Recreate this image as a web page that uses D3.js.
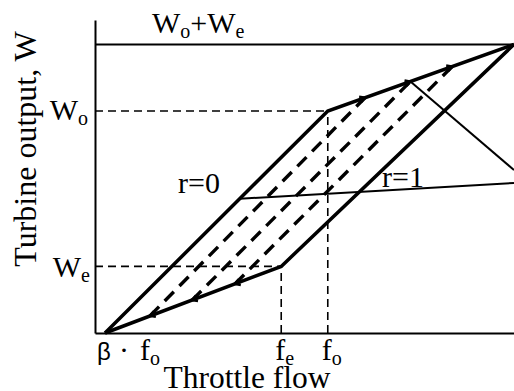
<!DOCTYPE html>
<html>
<head>
<meta charset="utf-8">
<script src="https://cdn.jsdelivr.net/npm/d3@7"></script>
<style>
  html, body { margin: 0; padding: 0; background: #fff; }
  svg { display: block; }
  text { font-family: "Liberation Serif", "Times New Roman", serif; fill: #000; }
</style>
</head>
<body>
<svg id="chart" width="514" height="391"></svg>
<script>
// Operating-region diagram of an extraction turbine: output W vs throttle flow.
const flowRef = { beta: 0.043, fe: 0.8, fo: 1.0 };        // flows (relative to f_o)
const powerRef = { We: 0.3, Wo: 1.0 };                    // outputs (relative to W_o)

// Region boundary, lower path and upper path (flow, output)
const lowerBoundary = [[0.043, 0], [0.8, 0.3], [1.8, 1.3]];
const upperBoundary = [[0.043, 0], [1.0, 1.0], [1.8, 1.3]];

// Constant-extraction lines inside the region
const extractionLines = [
  [[0.236, 0.077], [1.160, 1.060]],
  [[0.417, 0.148], [1.355, 1.133]],
  [[0.601, 0.221], [1.534, 1.200]]
];

// Ratio line r=0 .. r=1 and the limit line from the upper boundary
const ratioLine = [[0.622, 0.605], [1.8, 0.676]];
const limitLine = [[1.355, 1.133], [1.8, 0.734]];

// Axis extents
const flowDomain = [0, 1.8];
const powerDomain = [0, 1.41];

const svg = d3.select("#chart");
const x = d3.scaleLinear().domain(flowDomain).range([95, 514]);
const y = d3.scaleLinear().domain(powerDomain).range([333, 20]);
const line = d3.line().x(d => x(d[0])).y(d => y(d[1]));

// Axes (plain lines, labels drawn separately)
const xAxis = svg.append("g").attr("transform", `translate(0,${y(0)})`)
  .call(d3.axisBottom(x).tickValues([]).tickSizeOuter(0));
const yAxis = svg.append("g").attr("transform", `translate(${x(0)},0)`)
  .call(d3.axisLeft(y).tickValues([]).tickSizeOuter(0));
[xAxis, yAxis].forEach(g => g.select(".domain").attr("stroke", "#000").attr("stroke-width", 2));

// Maximum total output
const Wmax = powerRef.Wo + powerRef.We;
svg.append("path").attr("d", line([[0, Wmax], [flowDomain[1], Wmax]]))
  .attr("fill", "none").attr("stroke", "#000").attr("stroke-width", 2);

// Reference guides for W_o, W_e, f_e, f_o
const guides = [
  [[0, powerRef.Wo], [flowRef.fo, powerRef.Wo]],
  [[0, powerRef.We], [flowRef.fe, powerRef.We]],
  [[flowRef.fe, 0], [flowRef.fe, powerRef.We]],
  [[flowRef.fo, 0], [flowRef.fo, powerRef.Wo]]
];
svg.selectAll("path.guide").data(guides).join("path").attr("class", "guide")
  .attr("d", line).attr("fill", "none").attr("stroke", "#000")
  .attr("stroke-width", 1.6).attr("stroke-dasharray", "8,5");

// Extraction lines (dashed, heavy)
svg.selectAll("path.extr").data(extractionLines).join("path").attr("class", "extr")
  .attr("d", line).attr("fill", "none").attr("stroke", "#000")
  .attr("stroke-width", 3.4).attr("stroke-dasharray", "13,8");

// Thin lines
svg.selectAll("path.thin").data([ratioLine, limitLine]).join("path").attr("class", "thin")
  .attr("d", line).attr("fill", "none").attr("stroke", "#000").attr("stroke-width", 2);

// Region boundary
svg.selectAll("path.bound").data([lowerBoundary, upperBoundary]).join("path").attr("class", "bound")
  .attr("d", line).attr("fill", "none").attr("stroke", "#000")
  .attr("stroke-width", 3.5).attr("stroke-linejoin", "miter");

// Small arrowheads where extraction lines meet the boundary
function chevron(px, py, angle) {
  const len = 6, spread = Math.PI / 6;
  const a1 = angle + Math.PI - spread, a2 = angle + Math.PI + spread;
  return `M${px + len * Math.cos(a1)},${py + len * Math.sin(a1)}L${px},${py}L${px + len * Math.cos(a2)},${py + len * Math.sin(a2)}`;
}
const arrowPts = [];
extractionLines.forEach(l => {
  const s = l[0], e = l[1];
  // lower end: pointing down the lower boundary toward the origin
  arrowPts.push({ p: s, dir: [lowerBoundary[0], lowerBoundary[1]], back: true });
  // upper end: pointing up the upper boundary
  arrowPts.push({ p: e, dir: [upperBoundary[1], upperBoundary[2]], back: false });
});
svg.selectAll("path.arrow").data(arrowPts).join("path").attr("class", "arrow")
  .attr("d", d => {
    const dx = x(d.dir[1][0]) - x(d.dir[0][0]);
    const dy = y(d.dir[1][1]) - y(d.dir[0][1]);
    let ang = Math.atan2(dy, dx);
    if (d.back) ang += Math.PI;
    return chevron(x(d.p[0]), y(d.p[1]), ang);
  })
  .attr("fill", "none").attr("stroke", "#000").attr("stroke-width", 2.5);

// Text helpers
function subLabel(parent, px, py, main, sub, anchor) {
  const t = parent.append("text").attr("x", px).attr("y", py)
    .attr("font-size", 30).attr("text-anchor", anchor || "start");
  t.append("tspan").text(main);
  t.append("tspan").attr("font-size", 20).attr("dy", 5).text(sub);
  return t;
}

// Top label W_o+W_e
const maxLabel = svg.append("text").attr("x", 152).attr("y", 33).attr("font-size", 30);
maxLabel.append("tspan").text("W");
maxLabel.append("tspan").attr("font-size", 20).attr("dy", 5).text("o");
maxLabel.append("tspan").attr("dy", -5).text("+W");
maxLabel.append("tspan").attr("font-size", 20).attr("dy", 5).text("e");

// Output tick labels
subLabel(svg, 88, y(powerRef.Wo) + 9, "W", "o", "end");
subLabel(svg, 90, y(powerRef.We) + 11, "W", "e", "end");

// Flow tick labels
const bl = svg.append("text").attr("x", x(flowRef.beta) - 8).attr("y", 360).attr("font-size", 30);
bl.append("tspan").attr("font-family", "Liberation Sans, sans-serif").attr("font-size", 24).text("β");
bl.append("tspan").attr("x", x(flowRef.beta) + 14).text("·");
bl.append("tspan").attr("x", x(flowRef.beta) + 35).text("f");
bl.append("tspan").attr("font-size", 20).attr("dy", 5).text("o");
subLabel(svg, x(flowRef.fe) - 6, 360, "f", "e");
subLabel(svg, x(flowRef.fo) - 6, 360, "f", "o");

// Ratio labels
svg.append("text").attr("x", 178).attr("y", 193).attr("font-size", 30).text("r=0");
svg.append("text").attr("x", 382).attr("y", 187).attr("font-size", 30).text("r=1");

// Axis titles
svg.append("text").attr("x", 247).attr("y", 388).attr("font-size", 31.5)
  .attr("text-anchor", "middle").text("Throttle flow");
svg.append("text").attr("transform", "translate(36,149) rotate(-90)")
  .attr("font-size", 32).attr("text-anchor", "middle").text("Turbine output, W");
</script>
</body>
</html>
